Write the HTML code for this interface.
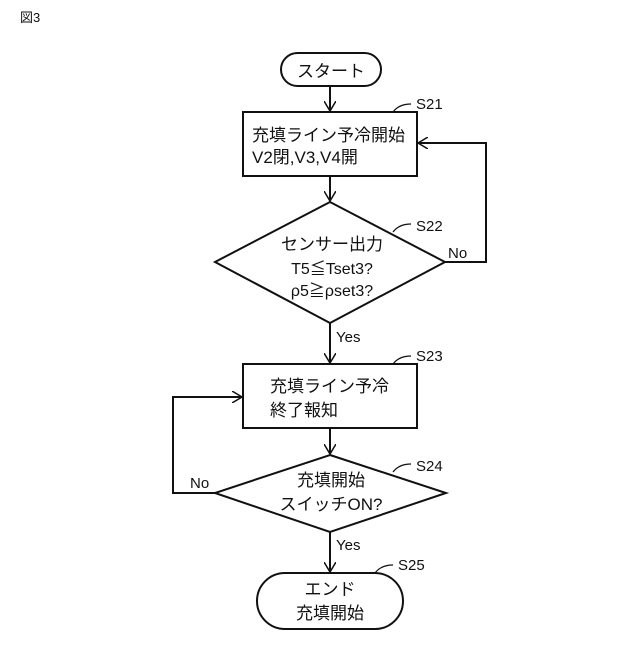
<!DOCTYPE html>
<html><head><meta charset="utf-8"><style>
html,body{margin:0;padding:0;background:#fff;}
svg text{font-family:"Liberation Sans","Noto Sans CJK JP",sans-serif;fill:#111;}
</style></head><body>
<svg width="640" height="640" viewBox="0 0 640 640" xmlns="http://www.w3.org/2000/svg">
<defs><marker id="a" markerWidth="12" markerHeight="12" refX="10" refY="6" orient="auto" markerUnits="userSpaceOnUse"><path d="M0,0 L10,6 L0,12" fill="none" stroke="#111" stroke-width="1.5"/></marker></defs>
<g stroke="#111" stroke-width="2" fill="none">
<rect x="281" y="53" width="100" height="33" rx="16.5"/>
<rect x="243" y="112" width="174" height="64"/>
<polygon points="330,202 445,262 330,323 215,262"/>
<rect x="243" y="364" width="174" height="64"/>
<polygon points="330,455 446,493 330,532 215,493"/>
<path d="M257,601 a28,28 0 0 1 28,-28 h90 a28,28 0 0 1 28,28 a28,28 0 0 1 -28,28 h-90 a28,28 0 0 1 -28,-28z"/>
<line x1="330" y1="86" x2="330" y2="111" marker-end="url(#a)"/>
<line x1="330" y1="176" x2="330" y2="201" marker-end="url(#a)"/>
<line x1="330" y1="323" x2="330" y2="363" marker-end="url(#a)"/>
<line x1="330" y1="428" x2="330" y2="454" marker-end="url(#a)"/>
<line x1="330" y1="532" x2="330" y2="572" marker-end="url(#a)"/>
<polyline points="445,262 486,262 486,143 418,143" marker-end="url(#a)"/>
<polyline points="215,493 173,493 173,397 242,397" marker-end="url(#a)"/>
<g stroke-width="1.2">
<path d="M393,112 q6,-8 18,-8"/>
<path d="M393,232 q6,-8 18,-8"/>
<path d="M393,364 q6,-8 18,-8"/>
<path d="M393,472 q6,-8 18,-8"/>
<path d="M375,573 q6,-8 18,-8"/>
</g>
</g>
<text x="20" y="22" font-size="13">図3</text>
<text x="331" y="77" font-size="17" text-anchor="middle">スタート</text>
<text x="252" y="141" font-size="17">充填ライン予冷開始</text>
<text x="252" y="163" font-size="17">V2閉,V3,V4開</text>
<text x="416" y="109" font-size="15">S21</text>
<text x="332" y="250" font-size="17" text-anchor="middle">センサー出力</text>
<text x="332" y="274" font-size="16" text-anchor="middle">T5≦Tset3?</text>
<text x="332" y="296" font-size="16" text-anchor="middle">ρ5≧ρset3?</text>
<text x="416" y="231" font-size="15">S22</text>
<text x="448" y="258" font-size="15">No</text>
<text x="336" y="342" font-size="15">Yes</text>
<text x="270" y="392" font-size="17">充填ライン予冷</text>
<text x="270" y="416" font-size="17">終了報知</text>
<text x="416" y="361" font-size="15">S23</text>
<text x="331" y="486" font-size="17" text-anchor="middle">充填開始</text>
<text x="331" y="510" font-size="17" text-anchor="middle">スイッチON?</text>
<text x="416" y="471" font-size="15">S24</text>
<text x="190" y="488" font-size="15">No</text>
<text x="336" y="550" font-size="15">Yes</text>
<text x="398" y="570" font-size="15">S25</text>
<text x="330" y="595" font-size="17" text-anchor="middle">エンド</text>
<text x="330" y="619" font-size="17" text-anchor="middle">充填開始</text>
</svg>
</body></html>
